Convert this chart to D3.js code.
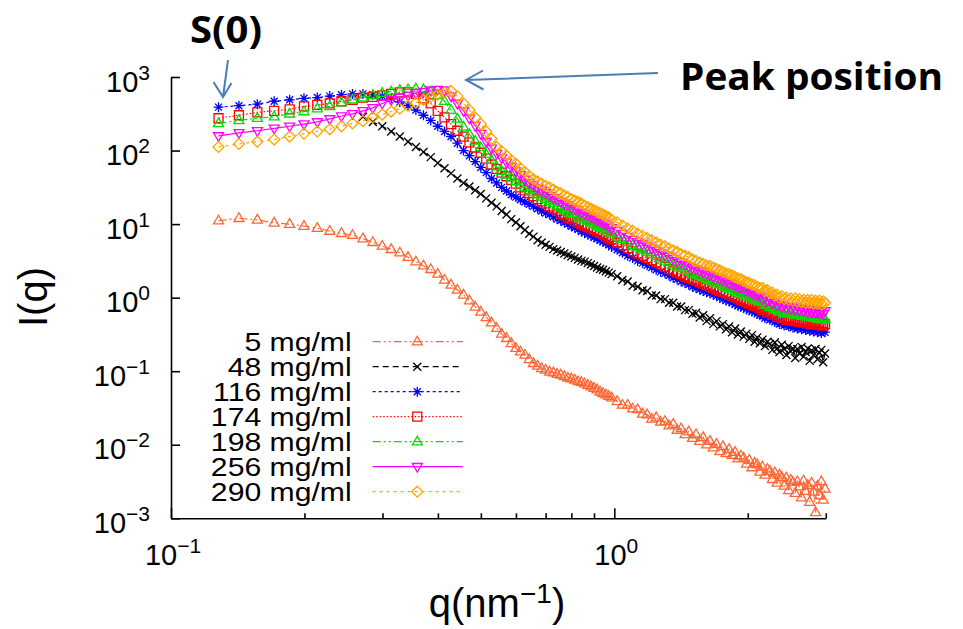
<!DOCTYPE html>
<html>
<head>
<meta charset="utf-8">
<script src="https://cdn.jsdelivr.net/npm/d3@7"></script>
<style>
  body { margin: 0; background: #fff; }
</style>
</head>
<body>
<div id="chart"></div>
<script>
// q grid (nm^-1), shared by all samples
const Q = [
  0.128, 0.1423, 0.1566, 0.1709, 0.1852, 0.1995, 0.2138, 0.2281, 0.2424, 0.2567,
  0.271, 0.2853, 0.2996, 0.3139, 0.3282, 0.3425, 0.3568, 0.3711, 0.3854, 0.3997,
  0.414, 0.4283, 0.4426, 0.4569, 0.4712, 0.4855, 0.4998, 0.5141, 0.5284, 0.5427,
  0.557, 0.5713, 0.5856, 0.5999, 0.6142, 0.6285, 0.6428, 0.6571, 0.6714, 0.6857,
  0.7, 0.7143, 0.7286, 0.7429, 0.7572, 0.7715, 0.7858, 0.8001, 0.8144, 0.8287,
  0.843, 0.8573, 0.8716, 0.8859, 0.9002, 0.9145, 0.9288, 0.9431, 0.9574, 0.9717,
  0.986, 1.015, 1.043, 1.072, 1.100, 1.129, 1.158, 1.186, 1.215, 1.243,
  1.272, 1.301, 1.329, 1.358, 1.386, 1.415, 1.444, 1.472, 1.501, 1.529,
  1.558, 1.587, 1.615, 1.644, 1.672, 1.701, 1.730, 1.758, 1.787, 1.815,
  1.844, 1.873, 1.901, 1.930, 1.958, 1.987, 2.016, 2.044, 2.073, 2.101,
  2.130, 2.159, 2.187, 2.216, 2.244, 2.273, 2.302, 2.330, 2.359, 2.387,
  2.416, 2.445, 2.473, 2.502, 2.530, 2.559, 2.588, 2.616, 2.645, 2.673,
  2.702, 2.731, 2.759, 2.788, 2.816, 2.845, 2.874, 2.902, 2.931, 2.959,
  2.988
];

const I_5 = [
  11.1, 12.0, 11.4, 10.4, 10.0, 9.4, 8.8, 8.05, 7.5, 7.05,
  6.34, 5.66, 5.04, 4.54, 4.08, 3.54, 3.08, 2.72, 2.43, 2.10,
  1.74, 1.49, 1.27, 1.09, 0.91, 0.75, 0.64, 0.54, 0.457, 0.384,
  0.321, 0.280, 0.239, 0.205, 0.184, 0.166, 0.145, 0.128, 0.118, 0.109,
  0.104, 0.098, 0.0955, 0.0912, 0.0891, 0.0851, 0.0813, 0.0794, 0.0759, 0.0724,
  0.0708, 0.0676, 0.0646, 0.0617, 0.0589, 0.0562, 0.0525, 0.0501, 0.0479, 0.0457,
  0.0437, 0.0389, 0.0347, 0.0347, 0.0309, 0.0302, 0.0263, 0.0257, 0.0224, 0.0234,
  0.0204, 0.0209, 0.0182, 0.0191, 0.0158, 0.0166, 0.0138, 0.0151, 0.0123, 0.0138,
  0.0112, 0.0126, 0.0100, 0.0112, 0.0091, 0.0102, 0.0081, 0.0095, 0.0076, 0.0087,
  0.00724, 0.00794, 0.00646, 0.00708, 0.00661, 0.00550, 0.00617, 0.00490, 0.00562, 0.00537,
  0.00427, 0.00501, 0.00389, 0.00468, 0.00437, 0.00339, 0.00417, 0.00302, 0.00389, 0.00363,
  0.00275, 0.00355, 0.00240, 0.00331, 0.00309, 0.00219, 0.00316, 0.00269, 0.00191, 0.00324,
  0.00234, 0.00282, 0.00166, 0.00302, 0.00229, 0.00120, 0.00275, 0.00204, 0.00316, 0.00178,
  0.00251
];

const I_48 = [
  null, null, null, null, null, null, null, null, null, null,
  288, 245, 214, 182, 155, 132, 112, 95.5, 81.3, 67.6,
  57.5, 49.0, 41.7, 36.3, 32.4, 28.8, 25.7, 22.4, 19.5, 17.4,
  15.1, 13.5, 11.7, 10.5, 9.33, 8.32, 7.41, 6.76, 6.03, 5.62,
  5.25, 4.90, 4.57, 4.37, 4.17, 3.98, 3.80, 3.63, 3.47, 3.31,
  3.16, 3.09, 2.95, 2.82, 2.69, 2.57, 2.45, 2.40, 2.29, 2.19,
  2.09, 1.95, 1.74, 1.66, 1.45, 1.41, 1.26, 1.23, 1.07, 1.07,
  0.955, 0.955, 0.851, 0.851, 0.759, 0.759, 0.676, 0.676, 0.603, 0.617,
  0.537, 0.575, 0.479, 0.525, 0.437, 0.479, 0.407, 0.437, 0.372, 0.407,
  0.339, 0.380, 0.316, 0.347, 0.295, 0.324, 0.275, 0.309, 0.251, 0.288,
  0.240, 0.269, 0.219, 0.251, 0.234, 0.195, 0.245, 0.204, 0.182, 0.229,
  0.200, 0.166, 0.219, 0.186, 0.204, 0.151, 0.200, 0.174, 0.214, 0.158,
  0.182, 0.204, 0.138, 0.191, 0.166, 0.200, 0.145, 0.178, 0.195, 0.132,
  0.174
];

const I_116 = [
  389, 407, 427, 468, 490, 513, 525, 550, 575, 589,
  589, 575, 550, 513, 457, 407, 355, 302, 257, 214,
  182, 155, 126, 100, 85.1, 70.8, 58.9, 50.1, 41.7, 36.3,
  31.6, 28.2, 25.1, 23.4, 21.4, 20.0, 18.6, 17.4, 16.2, 15.1,
  14.1, 13.5, 12.6, 11.7, 11.2, 10.5, 10.0, 9.33, 8.91, 8.51,
  7.94, 7.59, 7.24, 6.92, 6.61, 6.31, 6.03, 5.75, 5.50, 5.25,
  4.90, 4.47, 4.07, 3.72, 3.47, 3.16, 2.95, 2.75, 2.57, 2.40,
  2.24, 2.14, 2.00, 1.86, 1.78, 1.66, 1.58, 1.51, 1.41, 1.35,
  1.29, 1.23, 1.18, 1.15, 1.10, 1.05, 1.00, 0.955, 0.912, 0.891,
  0.851, 0.813, 0.776, 0.759, 0.724, 0.692, 0.676, 0.646, 0.631, 0.603,
  0.575, 0.575, 0.525, 0.537, 0.501, 0.501, 0.468, 0.468, 0.437, 0.447,
  0.417, 0.427, 0.407, 0.417, 0.389, 0.407, 0.380, 0.398, 0.372, 0.389,
  0.363, 0.380, 0.355, 0.372, 0.347, 0.372, 0.339, 0.363, 0.331, 0.355,
  0.339
];

const I_174 = [
  275, 302, 331, 347, 363, 398, 417, 437, 468, 490,
  525, 537, 562, 589, 617, 617, 589, 513, 437, 347,
  282, 229, 186, 155, 129, 110, 93.3, 77.6, 64.6, 56.2,
  50.1, 44.7, 39.8, 35.5, 31.6, 28.8, 26.3, 24.0, 21.9, 20.4,
  19.1, 17.4, 16.2, 15.1, 13.8, 13.2, 12.3, 11.7, 11.0, 10.5,
  10.0, 9.55, 9.12, 8.71, 8.32, 7.94, 7.59, 7.24, 6.76, 6.46,
  6.17, 5.62, 5.13, 4.68, 4.27, 3.98, 3.72, 3.47, 3.24, 3.02,
  2.82, 2.63, 2.45, 2.34, 2.19, 2.09, 1.95, 1.86, 1.78, 1.70,
  1.62, 1.55, 1.48, 1.41, 1.35, 1.29, 1.23, 1.20, 1.15, 1.10,
  1.05, 1.02, 0.977, 0.933, 0.912, 0.871, 0.832, 0.813, 0.776, 0.759,
  0.724, 0.676, 0.708, 0.631, 0.661, 0.589, 0.617, 0.550, 0.575, 0.525,
  0.537, 0.501, 0.525, 0.490, 0.513, 0.479, 0.501, 0.468, 0.490, 0.457,
  0.479, 0.447, 0.468, 0.437, 0.468, 0.437, 0.457, 0.427, 0.447, 0.417,
  0.437
];

const I_198 = [
  234, 257, 275, 288, 316, 339, 372, 398, 447, 490,
  525, 562, 603, 631, 661, 676, 692, 676, 631, 562,
  468, 355, 269, 209, 166, 135, 110, 89.1, 74.1, 60.3,
  52.5, 46.8, 42.7, 38.0, 34.7, 31.6, 28.8, 26.9, 25.1, 23.4,
  21.9, 20.4, 19.1, 17.8, 17.0, 15.8, 14.8, 14.1, 13.5, 12.6,
  12.0, 11.5, 11.0, 10.5, 10.0, 9.55, 9.12, 8.71, 8.32, 7.76,
  7.41, 6.76, 6.17, 5.62, 5.13, 4.79, 4.47, 4.17, 3.89, 3.63,
  3.39, 3.16, 3.02, 2.82, 2.63, 2.51, 2.34, 2.24, 2.14, 2.04,
  1.95, 1.86, 1.78, 1.70, 1.62, 1.55, 1.51, 1.45, 1.38, 1.32,
  1.29, 1.23, 1.17, 1.12, 1.10, 1.05, 1.00, 0.977, 0.933, 0.912,
  0.871, 0.871, 0.794, 0.813, 0.741, 0.759, 0.692, 0.708, 0.646, 0.676,
  0.617, 0.646, 0.603, 0.631, 0.589, 0.617, 0.575, 0.603, 0.562, 0.589,
  0.550, 0.575, 0.537, 0.562, 0.525, 0.562, 0.513, 0.550, 0.501, 0.537,
  0.513
];

const I_256 = [
  158, 174, 186, 200, 214, 229, 245, 269, 295, 316,
  347, 380, 437, 490, 525, 562, 603, 631, 661, 676,
  661, 550, 437, 347, 275, 219, 170, 132, 107, 91.2,
  79.4, 69.2, 60.3, 52.5, 46.8, 40.7, 36.3, 33.9, 30.9, 28.8,
  26.9, 24.5, 22.9, 21.4, 20.4, 19.1, 18.2, 17.0, 16.2, 15.5,
  14.5, 13.8, 13.2, 12.6, 12.0, 11.5, 11.0, 10.5, 10.0, 9.33,
  8.91, 8.13, 7.41, 6.76, 6.17, 5.75, 5.37, 5.01, 4.68, 4.37,
  4.07, 3.80, 3.63, 3.39, 3.16, 3.02, 2.82, 2.69, 2.57, 2.45,
  2.34, 2.24, 2.14, 2.04, 1.95, 1.91, 1.82, 1.74, 1.66, 1.58,
  1.55, 1.48, 1.41, 1.38, 1.32, 1.26, 1.23, 1.17, 1.12, 1.10,
  1.05, 0.977, 1.02, 0.912, 0.955, 0.851, 0.891, 0.794, 0.832, 0.759,
  0.794, 0.724, 0.776, 0.708, 0.759, 0.692, 0.741, 0.676, 0.724, 0.661,
  0.708, 0.646, 0.692, 0.631, 0.676, 0.631, 0.661, 0.617, 0.646, 0.603,
  0.661
];

const I_290 = [
  112, 123, 132, 141, 155, 170, 182, 195, 214, 234,
  251, 282, 309, 339, 372, 407, 447, 490, 537, 575,
  617, 646, 550, 437, 355, 282, 229, 182, 145, 112,
  97.7, 85.1, 74.1, 66.1, 57.5, 51.3, 44.7, 40.7, 38.0, 35.5,
  33.1, 31.6, 29.5, 27.5, 26.3, 24.5, 23.4, 21.9, 20.9, 20.0,
  19.1, 17.8, 17.0, 16.2, 15.5, 14.8, 14.1, 13.5, 12.9, 12.3,
  11.5, 10.5, 9.55, 8.71, 8.13, 7.41, 6.92, 6.46, 6.03, 5.62,
  5.25, 5.01, 4.68, 4.37, 4.17, 3.89, 3.72, 3.55, 3.31, 3.16,
  3.02, 2.88, 2.75, 2.69, 2.57, 2.45, 2.34, 2.24, 2.14, 2.09,
  2.00, 1.91, 1.82, 1.78, 1.70, 1.62, 1.58, 1.51, 1.48, 1.41,
  1.35, 1.35, 1.23, 1.26, 1.15, 1.17, 1.07, 1.10, 1.00, 1.05,
  0.955, 1.00, 0.933, 0.977, 0.912, 0.977, 0.891, 0.955, 0.871, 0.933,
  0.851, 0.933, 0.851, 0.933, 0.832, 0.912, 0.832, 0.912, 0.813, 0.891,
  0.851
];

const LABELS = ['5 mg/ml', '48 mg/ml', '116 mg/ml', '174 mg/ml', '198 mg/ml', '256 mg/ml', '290 mg/ml'];
const VALUES = [I_5, I_48, I_116, I_174, I_198, I_256, I_290];
const COLORS = ['#ff6633', '#000000', '#0000ff', '#ff0000', '#00dd00', '#ff00ff', '#ffa500'];
const DASHES = ['8,3,2,3,2,3', '6,4', '3,3', '1.5,2', '8,3,2,3,2,3', null, '3,4'];
const MARKERS = ['triUp', 'cross', 'star', 'square', 'triUp', 'triDown', 'diamond'];

const Y_TICKS = [1e-3, 1e-2, 1e-1, 1, 1e1, 1e2, 1e3];
const X_MAJOR = [0.1, 1];
const X_MINOR = [0.2, 0.3, 0.4, 0.5, 0.6, 0.7, 0.8, 0.9, 2, 3];

const SHAPES = {
  triUp:   'M0,-5.5L5,3.2L-5,3.2Z',
  triDown: 'M0,5.5L5,-3.2L-5,-3.2Z',
  square:  'M-4.5,-4.5H4.5V4.5H-4.5Z',
  diamond: 'M0,-5.5L5.5,0L0,5.5L-5.5,0Z',
  cross:   'M-4,-4L4,4M-4,4L4,-4',
  star:    'M-5,0H5M0,-5V5M-3.5,-3.5L3.5,3.5M-3.5,3.5L3.5,-3.5'
};

const FONT = "'Liberation Sans', Arial, Helvetica, sans-serif";
const width = 963, height = 629;

const svg = d3.select('#chart').append('svg')
  .attr('width', width)
  .attr('height', height)
  .style('font-family', FONT);

svg.append('rect').attr('width', width).attr('height', height).attr('fill', '#fff');

const x = d3.scaleLog().domain([0.1, 3]).range([171, 825.8]);
const y = d3.scaleLog().domain([1e-3, 1e3]).range([518.3, 77]);

const expText = d => {
  const e = Math.round(Math.log10(d));
  return e < 0 ? '\u2212' + (-e) : String(e);
};

// axes (left + bottom only, ticks pointing inward)
const axisStyle = g => g.selectAll('path,line').attr('stroke', '#000').attr('stroke-width', 1.6);

svg.append('g')
  .attr('transform', 'translate(171,0)')
  .call(d3.axisLeft(y).tickValues(Y_TICKS).tickSize(-9).tickSizeOuter(0).tickFormat(''))
  .call(axisStyle);

svg.append('g')
  .attr('transform', 'translate(0,518.3)')
  .call(d3.axisBottom(x).tickValues(X_MAJOR).tickSize(-10).tickSizeOuter(0).tickFormat(''))
  .call(axisStyle);

svg.append('g')
  .attr('transform', 'translate(0,518.3)')
  .call(d3.axisBottom(x).tickValues(X_MINOR).tickSize(-5).tickSizeOuter(0).tickFormat(''))
  .call(axisStyle)
  .call(g => g.select('.domain').remove());

// tick labels 10^n
svg.append('g').selectAll('text')
  .data(Y_TICKS)
  .join('text')
  .attr('x', 150)
  .attr('y', d => y(d) + 14.5)
  .attr('text-anchor', 'end')
  .attr('font-size', 29)
  .attr('fill', '#000')
  .each(function (d) {
    const t = d3.select(this);
    t.append('tspan').text('10');
    t.append('tspan').attr('dy', -12).attr('font-size', 21).text(expText(d));
  });

svg.append('g').selectAll('text')
  .data(X_MAJOR)
  .join('text')
  .attr('x', d => x(d) + 2)
  .attr('y', 565)
  .attr('text-anchor', 'middle')
  .attr('font-size', 29)
  .attr('fill', '#000')
  .each(function (d) {
    const t = d3.select(this);
    t.append('tspan').text('10');
    t.append('tspan').attr('dy', -12).attr('font-size', 21).text(expText(d));
  });

// axis titles
svg.append('text')
  .attr('transform', 'translate(47,297) rotate(-90)')
  .attr('text-anchor', 'middle')
  .attr('font-size', 40)
  .text('I(q)');

const xt = svg.append('text')
  .attr('x', 497)
  .attr('y', 617)
  .attr('text-anchor', 'middle')
  .attr('font-size', 40);
xt.append('tspan').text('q(nm');
xt.append('tspan').attr('dy', -14).attr('font-size', 28).text('\u22121');
xt.append('tspan').attr('dy', 14).text(')');

// data series
const line = d3.line()
  .defined(d => d[1] != null)
  .x(d => x(d[0]))
  .y(d => y(d[1]));

const plot = svg.append('g');

LABELS.forEach((label, s) => {
  const pts = Q.map((q, k) => [q, VALUES[s][k]]).filter(d => d[1] !== undefined);
  const g = plot.append('g');

  g.append('path')
    .datum(pts)
    .attr('d', line)
    .attr('fill', 'none')
    .attr('stroke', COLORS[s])
    .attr('stroke-width', 1.2)
    .attr('stroke-dasharray', DASHES[s]);

  g.selectAll('path.pt')
    .data(pts.filter(d => d[1] != null))
    .join('path')
    .attr('class', 'pt')
    .attr('d', SHAPES[MARKERS[s]])
    .attr('transform', d => `translate(${x(d[0])},${y(d[1])})`)
    .attr('fill', 'none')
    .attr('stroke', COLORS[s])
    .attr('stroke-width', 1.3);
});

// legend (tight rows, text slightly widened like the original)
const legend = svg.append('g');
LABELS.forEach((label, s) => {
  const cy = 341.7 + 25 * s;
  const t = legend.append('text')
    .attr('x', 351.7)
    .attr('y', cy + 9.5)
    .attr('text-anchor', 'end')
    .attr('font-size', 26)
    .attr('fill', '#000')
    .text(label);
  const w = t.node().getComputedTextLength();
  t.attr('textLength', w * 1.16).attr('lengthAdjust', 'spacingAndGlyphs');

  legend.append('line')
    .attr('x1', 372.7).attr('x2', 462.7)
    .attr('y1', cy).attr('y2', cy)
    .attr('stroke', COLORS[s])
    .attr('stroke-width', 1.2)
    .attr('stroke-dasharray', DASHES[s]);
  legend.append('path')
    .attr('d', SHAPES[MARKERS[s]])
    .attr('transform', `translate(417.3,${cy})`)
    .attr('fill', 'none')
    .attr('stroke', COLORS[s])
    .attr('stroke-width', 1.3);
});

// annotations
const ARROW = '#4a7ebb';
const ann = svg.append('g');

ann.append('text')
  .attr('x', 190).attr('y', 43)
  .attr('font-family', "'Open Sans', 'DejaVu Sans', sans-serif")
  .attr('font-weight', 'bold')
  .attr('font-size', 38)
  .attr('textLength', 72)
  .attr('lengthAdjust', 'spacingAndGlyphs')
  .text('S(0)');

ann.append('path')
  .attr('d', 'M228,60L223,97M213.5,82L223,97L231.5,83')
  .attr('fill', 'none').attr('stroke', ARROW).attr('stroke-width', 2);

ann.append('text')
  .attr('x', 680).attr('y', 90)
  .attr('font-family', "'Open Sans', 'DejaVu Sans', sans-serif")
  .attr('font-weight', 'bold')
  .attr('font-size', 38)
  .attr('textLength', 263)
  .attr('lengthAdjust', 'spacingAndGlyphs')
  .text('Peak position');

ann.append('path')
  .attr('d', 'M658,73L466,80M483,70.5L466,80L483.5,89.5')
  .attr('fill', 'none').attr('stroke', ARROW).attr('stroke-width', 2);
</script>
</body>
</html>
